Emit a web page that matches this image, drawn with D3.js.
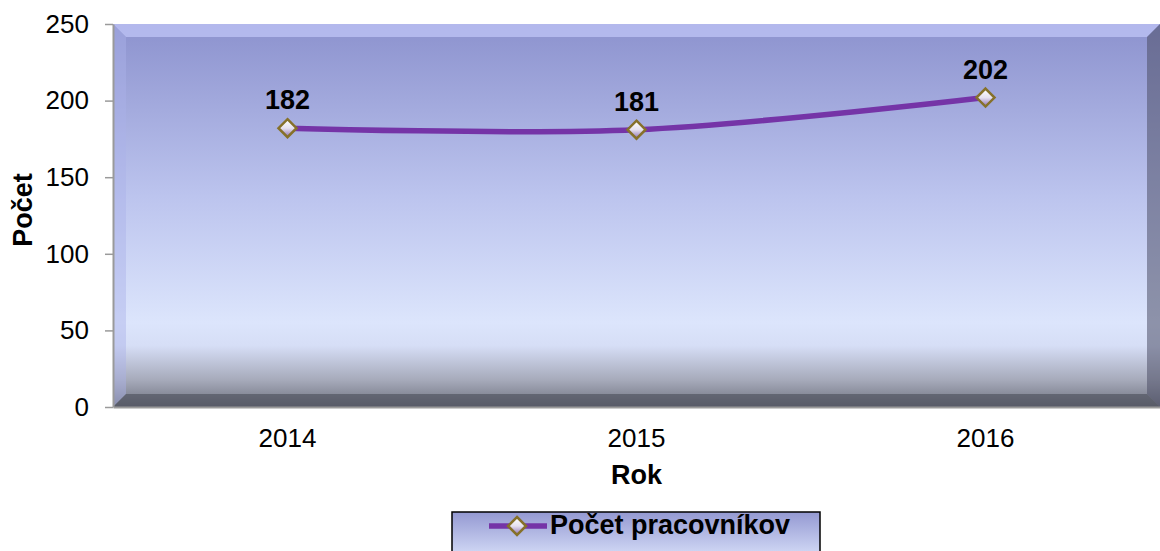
<!DOCTYPE html>
<html>
<head>
<meta charset="utf-8">
<script src="https://cdn.jsdelivr.net/npm/d3@7"></script>
<style>
  body { margin: 0; background: #fff; }
  svg { display: block; font-family: Arial, "Liberation Sans", sans-serif; }
</style>
</head>
<body>
<div id="chart"></div>
<script>
// data
const years = ["2014", "2015", "2016"];
const counts = [182, 181, 202];
const yTicks = [0, 50, 100, 150, 200, 250];
const seriesName = "Počet pracovníkov";

const W = 1160, H = 551;
const MARGIN = {top: 24, right: 0, bottom: 144, left: 113};
const plotW = W - MARGIN.left - MARGIN.right,
      plotH = H - MARGIN.top - MARGIN.bottom;

const FONT = "Arial, 'Liberation Sans', sans-serif";

const svg = d3.select("#chart").append("svg")
    .attr("width", W)
    .attr("height", H);

const defs = svg.append("defs");

// background gradient of the plot area
const bg = defs.append("linearGradient").attr("id", "bgGrad")
    .attr("x1", 0).attr("y1", 0).attr("x2", 0).attr("y2", 1);
bg.append("stop").attr("offset", "0%").attr("stop-color", "#8c92ce");
bg.append("stop").attr("offset", "45%").attr("stop-color", "#bcc4ee");
bg.append("stop").attr("offset", "78%").attr("stop-color", "#dce5fc");
bg.append("stop").attr("offset", "84%").attr("stop-color", "#d6def6");
bg.append("stop").attr("offset", "93%").attr("stop-color", "#a6aaba");
bg.append("stop").attr("offset", "100%").attr("stop-color", "#6e717e");

const legGrad = defs.append("linearGradient").attr("id", "legGrad")
    .attr("x1", 0).attr("y1", 0).attr("x2", 0).attr("y2", 1);
legGrad.append("stop").attr("offset", "0%").attr("stop-color", "#9499d2");
legGrad.append("stop").attr("offset", "100%").attr("stop-color", "#d6def8");

const mk = defs.append("linearGradient").attr("id", "mkGrad")
    .attr("x1", 0).attr("y1", 0).attr("x2", 0).attr("y2", 1);
mk.append("stop").attr("offset", "0%").attr("stop-color", "#ffffff");
mk.append("stop").attr("offset", "50%").attr("stop-color", "#e6e2f0");
mk.append("stop").attr("offset", "100%").attr("stop-color", "#8a6cb2");

const g = svg.append("g")
    .attr("transform", "translate(" + MARGIN.left + "," + MARGIN.top + ")");

const x = d3.scaleBand()
    .domain(years)
    .range([0, plotW]);

const y = d3.scaleLinear()
    .domain([0, 250])
    .range([plotH, 0]);

// plot area with bevel
g.append("rect")
    .attr("width", plotW).attr("height", plotH)
    .attr("fill", "url(#bgGrad)");

const bev = 13;
// top bevel (light)
g.append("polygon")
    .attr("points", [[0,0],[plotW,0],[plotW-bev,bev],[bev,bev]].join(" "))
    .attr("fill", "#b7bdef").attr("opacity", 0.9);
// left bevel
g.append("polygon")
    .attr("points", [[0,0],[bev,bev],[bev,plotH-bev],[0,plotH]].join(" "))
    .attr("fill", "#aab2e8").attr("opacity", 0.45);
// right bevel (dark)
g.append("polygon")
    .attr("points", [[plotW,0],[plotW,plotH],[plotW-bev,plotH-bev],[plotW-bev,bev]].join(" "))
    .attr("fill", "#4c4f66").attr("opacity", 0.55);
// bottom bevel (dark)
g.append("polygon")
    .attr("points", [[0,plotH],[plotW,plotH],[plotW-bev,plotH-bev],[bev,plotH-bev]].join(" "))
    .attr("fill", "#4a4c58").attr("opacity", 0.6);

// y axis
const yAxis = g.append("g")
    .call(d3.axisLeft(y).tickValues(yTicks).tickSize(8).tickSizeOuter(0));
yAxis.select(".domain").attr("stroke", "#9a9a9a").attr("stroke-width", 2);
yAxis.selectAll(".tick line").attr("stroke", "#9a9a9a").attr("stroke-width", 1.5);
yAxis.selectAll(".tick text")
    .attr("x", -24)
    .attr("font-size", 26).attr("fill", "#000")
    .attr("font-family", FONT);

// x axis
const xAxis = g.append("g")
    .attr("transform", "translate(0," + plotH + ")")
    .call(d3.axisBottom(x).tickSize(0).tickSizeOuter(0));
xAxis.select(".domain").attr("stroke", "#9a9a9a").attr("stroke-width", 2);
xAxis.selectAll(".tick text")
    .attr("y", 40).attr("dy", 0)
    .attr("font-size", 26).attr("fill", "#000")
    .attr("font-family", FONT);

// axis titles
svg.append("text")
    .attr("transform", "translate(32,210) rotate(-90)")
    .attr("text-anchor", "middle")
    .attr("font-size", 27).attr("font-weight", "bold")
    .text("Počet");

svg.append("text")
    .attr("x", MARGIN.left + x("2015") + x.bandwidth() / 2)
    .attr("y", 484)
    .attr("text-anchor", "middle")
    .attr("font-size", 27).attr("font-weight", "bold")
    .text("Rok");

// series
const pts = years.map((yr, i) => ({year: yr, value: counts[i]}));
const cx = d => x(d.year) + x.bandwidth() / 2;

const line = d3.line()
    .x(cx)
    .y(d => y(d.value))
    .curve(d3.curveCatmullRom.alpha(0.5));

g.append("path")
    .datum(pts)
    .attr("fill", "none")
    .attr("stroke", "#7534a7")
    .attr("stroke-width", 5.5)
    .attr("d", line);

const diamond = s => "M0," + (-s) + "L" + s + ",0L0," + s + "L" + (-s) + ",0Z";

g.selectAll(".marker")
    .data(pts)
  .join("path")
    .attr("class", "marker")
    .attr("transform", d => "translate(" + cx(d) + "," + y(d.value) + ")")
    .attr("d", diamond(9))
    .attr("fill", "url(#mkGrad)")
    .attr("stroke", "#86712a")
    .attr("stroke-width", 2.5);

g.selectAll(".lbl")
    .data(pts)
  .join("text")
    .attr("class", "lbl")
    .attr("x", cx)
    .attr("y", d => y(d.value) - 19)
    .attr("text-anchor", "middle")
    .attr("font-size", 27).attr("font-weight", "bold")
    .text(d => d.value);

// legend
const leg = svg.append("g").attr("transform", "translate(452,512)");
leg.append("rect")
    .attr("width", 368).attr("height", 46)
    .attr("fill", "url(#legGrad)")
    .attr("stroke", "#000").attr("stroke-width", 1.5);
leg.append("line")
    .attr("x1", 37).attr("x2", 95).attr("y1", 14).attr("y2", 14)
    .attr("stroke", "#7534a7").attr("stroke-width", 5.5);
leg.append("path")
    .attr("transform", "translate(65,14)")
    .attr("d", diamond(9))
    .attr("fill", "url(#mkGrad)")
    .attr("stroke", "#86712a")
    .attr("stroke-width", 2.5);
leg.append("text")
    .attr("x", 98).attr("y", 22)
    .attr("font-size", 27).attr("font-weight", "bold")
    .text(seriesName);
</script>
</body>
</html>
